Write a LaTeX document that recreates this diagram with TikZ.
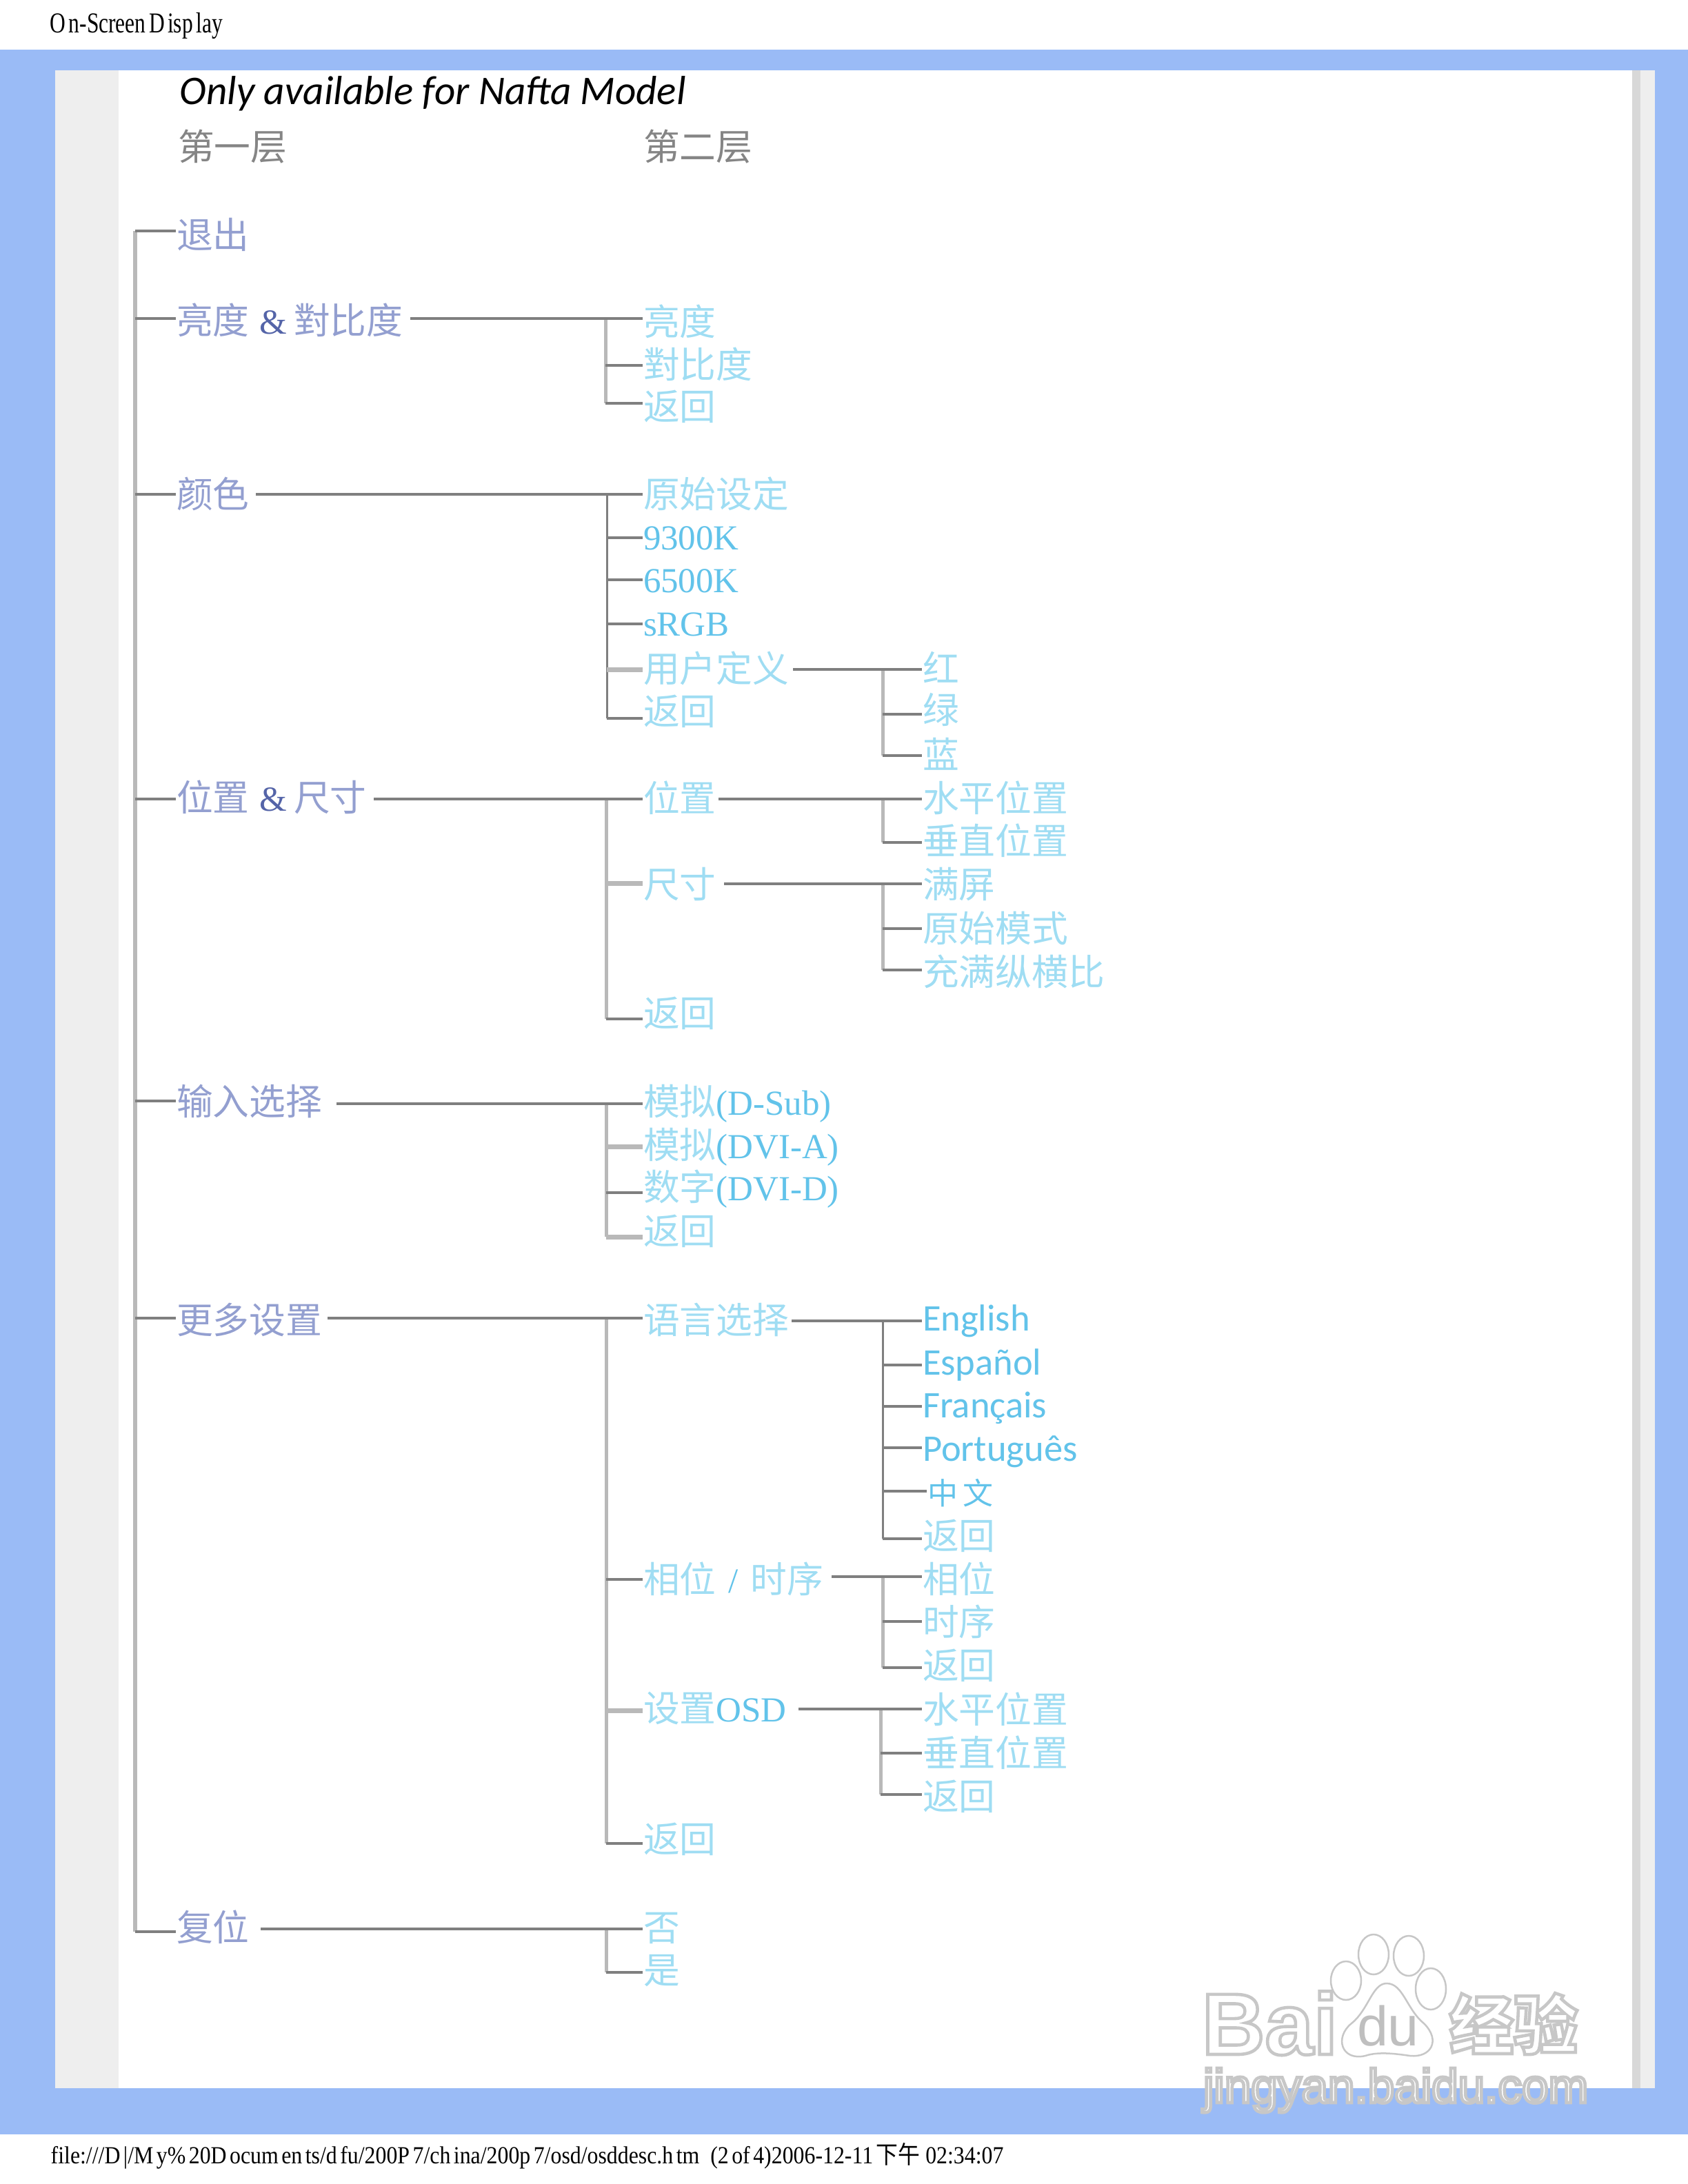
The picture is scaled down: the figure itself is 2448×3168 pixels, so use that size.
\documentclass[tikz,border=0pt]{standalone}
\usepackage{fontspec}
\usepackage{graphicx}
\setmainfont{Liberation Serif}
\newfontfamily\cjkf{Noto Sans CJK SC}
\newfontfamily\carl{Carlito}
\newfontfamily\wmf{Liberation Sans}
\definecolor{pageblue}{HTML}{9ABBF6}
\definecolor{panelgrey}{HTML}{EEEEEE}
\definecolor{edgegrey}{HTML}{D8D8D8}
\definecolor{lineDark}{HTML}{7F7F7F}
\definecolor{lineLight}{HTML}{B9B9B9}
\definecolor{firstcjk}{HTML}{939FD0}
\definecolor{firstlat}{HTML}{5464A8}
\definecolor{secondcjk}{HTML}{9FDDF3}
\definecolor{secondlat}{HTML}{62C3EA}
\definecolor{headgrey}{HTML}{858585}
\newcommand\C[1]{{\cjkf\fontsize{15}{16}\selectfont #1}}
\newcommand\gapk{\kern.14em\relax}
\newcommand\outl[1]{\special{pdf:code 2 Tr 1.3 w 0.78 G}#1\special{pdf:code 0 Tr}}
\newcommand\lab[7][]{\node[lb,#1] (#2) at (#3,#4) {#7};
  \coordinate (#2-l) at (#3-1,#5);
  \coordinate (#2-r) at (#6,#5);}
\tikzset{
  x=0.01cm,y=-0.01cm,
  lb/.style={inner sep=0pt,outer sep=0pt,anchor=west,text height=.44cm,text depth=.05cm,
    font=\fontsize{14.5}{16}\selectfont},
  one/.style={text=firstcjk},
  two/.style={text=secondcjk},
  hm/.style={draw=lineDark,line width=.04cm},
  hl/.style={draw=lineLight,line width=.07cm},
  vl/.style={draw=lineLight,line width=.05cm},
  vd/.style={draw=lineDark,line width=.03cm},
  wm/.style={inner sep=0pt,outer sep=0pt,text=white},
  toe/.style={draw=black!22,line width=.025cm,fill=white},
}
\begin{document}
\begin{tikzpicture}
\useasboundingbox (0,0) rectangle (2448,3168);
\fill[white] (0,0) rectangle (2448,3168);
\fill[pageblue] (0,72) rectangle (2448,3096);
\fill[white] (80,102) rectangle (2400,3029);
\fill[panelgrey] (80,102) rectangle (172,3029);
\fill[panelgrey] (2379,102) rectangle (2400,3029);
\fill[edgegrey] (2367,102) rectangle (2379,3029);

% header and footer
\node[inner sep=0pt,anchor=west] (hdr) at (72,37) {\resizebox{2.50cm}{0.29cm}{O\gapk n-Screen\gapk D\gapk isp\gapk lay}};
\node[inner sep=0pt,anchor=west] (ftr) at (73,3127) {\resizebox{13.81cm}{0.30cm}{file:///D\gapk|/M\gapk y\%\gapk 20D\gapk ocum\gapk en\gapk ts/d\gapk fu/200P\gapk 7/ch\gapk ina/200p\gapk 7/osd/osddesc.h\gapk tm\ \ (2\gapk of\gapk 4)2006-12-11\gapk {\cjkf 下午}\ 02:34:07}};

% headings
\node[inner sep=0pt,anchor=west,font=\carl\itshape\fontsize{16.8}{18}\selectfont] (title) at (260,136) {Only available for Nafta Model};
\lab[text=headgrey]{h1st}{258}{213}{213}{410}{\C{第一层}}
\lab[text=headgrey]{h2nd}{933}{213}{213}{1090}{\C{第二层}}

% first level
\lab[one]{a1}{256}{341}{335}{360}{\C{退出}}
\lab[one]{a2}{256}{465}{462}{595}{\C{亮度}\hspace{.15cm}\textcolor{firstlat}{\&}\hspace{.1cm}\C{對比度}}
\lab[one]{a3}{256}{717}{717}{371}{\C{颜色}}
\lab[one]{a4}{256}{1157}{1159}{542}{\C{位置}\hspace{.15cm}\textcolor{firstlat}{\&}\hspace{.1cm}\C{尺寸}}
\lab[one]{a5}{256}{1598}{1597}{488}{\C{输入选择}}
\lab[one]{a6}{256}{1915}{1912}{475}{\C{更多设置}}
\lab[one]{a7}{256}{2796}{2802}{378}{\C{复位}}

% second level
\lab[two]{b1}{933}{467}{462}{1040}{\C{亮度}}
\lab[two]{b2}{933}{529}{530}{1090}{\C{對比度}}
\lab[two]{b3}{933}{590}{585}{1040}{\C{返回}}

\lab[two]{c1}{933}{717}{717}{1145}{\C{原始设定}}
\lab[two]{c2}{933}{778}{780}{1070}{\textcolor{secondlat}{9300K}}
\lab[two]{c3}{933}{840}{841}{1070}{\textcolor{secondlat}{6500K}}
\lab[two]{c4}{933}{903}{905}{1060}{\textcolor{secondlat}{sRGB}}
\lab[two]{c5}{933}{970}{971}{1150}{\C{用户定义}}
\lab[two]{c6}{933}{1032}{1042}{1040}{\C{返回}}

\lab[two]{e1}{933}{1158}{1159}{1042}{\C{位置}}
\lab[two]{e2}{933}{1283}{1281}{1050}{\C{尺寸}}
\lab[two]{e3}{933}{1470}{1478}{1040}{\C{返回}}

\lab[two]{h1}{933}{1598}{1601}{1200}{\C{模拟}\textcolor{secondlat}{(D-Sub)}}
\lab[two]{h2}{933}{1661}{1663}{1210}{\C{模拟}\textcolor{secondlat}{(DVI-A)}}
\lab[two]{h3}{933}{1722}{1730}{1215}{\C{数字}\textcolor{secondlat}{(DVI-D)}}
\lab[two]{h4}{933}{1786}{1794}{1040}{\C{返回}}

\lab[two]{i1}{933}{1915}{1912}{1148}{\C{语言选择}}
\lab[two]{i2}{933}{2291}{2291}{1206}{\C{相位}\hspace{.18cm}\textcolor{secondlat}{/}\hspace{.18cm}\C{时序}}
\lab[two]{i3}{933}{2478}{2481}{1158}{\C{设置}\textcolor{secondlat}{OSD}}
\lab[two]{i4}{933}{2668}{2674}{1040}{\C{返回}}

\lab[two]{n1}{933}{2796}{2798}{985}{\C{否}}
\lab[two]{n2}{933}{2858}{2861}{985}{\C{是}}

% third level
\lab[two]{d1}{1338}{970}{971}{1390}{\C{红}}
\lab[two]{d2}{1338}{1030}{1036}{1390}{\C{绿}}
\lab[two]{d3}{1338}{1095}{1096}{1390}{\C{蓝}}

\lab[two]{f1}{1338}{1158}{1159}{1545}{\C{水平位置}}
\lab[two]{f2}{1338}{1220}{1222}{1545}{\C{垂直位置}}

\lab[two]{g1}{1338}{1283}{1282}{1445}{\C{满屏}}
\lab[two]{g2}{1338}{1347}{1347}{1545}{\C{原始模式}}
\lab[two]{g3}{1338}{1410}{1407}{1597}{\C{充满纵横比}}

\lab[text=secondlat,font=\carl\fontsize{15.5}{17}\selectfont]{k1}{1338}{1911}{1916}{1495}{English}
\lab[text=secondlat,font=\carl\fontsize{15.5}{17}\selectfont]{k2}{1338}{1975}{1980}{1510}{Español}
\lab[text=secondlat,font=\carl\fontsize{15.5}{17}\selectfont]{k3}{1338}{2037}{2040}{1515}{Français}
\lab[text=secondlat,font=\carl\fontsize{15.5}{17}\selectfont]{k4}{1338}{2100}{2100}{1560}{Português}
\lab[text=secondlat,font=\cjkf\fontsize{12.5}{14}\selectfont]{k5}{1345}{2163}{2163}{1437}{中\hspace{.08cm}文}
\lab[two]{k6}{1338}{2228}{2232}{1440}{\C{返回}}

\lab[two]{l1}{1338}{2291}{2287}{1440}{\C{相位}}
\lab[two]{l2}{1338}{2353}{2352}{1440}{\C{时序}}
\lab[two]{l3}{1338}{2416}{2419}{1440}{\C{返回}}

\lab[two]{m1}{1338}{2480}{2479}{1545}{\C{水平位置}}
\lab[two]{m2}{1338}{2543}{2543}{1545}{\C{垂直位置}}
\lab[two]{m3}{1338}{2606}{2603}{1440}{\C{返回}}

% spine of the first level
\coordinate (sp) at (196,0);
\draw[vl] (sp|-a1-l) -- (sp|-a7-l);
\foreach \n in {a1,a2,a3,a4,a5,a6,a7}{\draw[hm] (sp|-\n-l) -- (\n-l);}

% junctions
\coordinate (jb) at (878,0);
\coordinate (jc) at (880,0);
\coordinate (je) at (879,0);
\coordinate (jd) at (1280,0);
\coordinate (jm) at (1277,0);

% brightness
\draw[vl] (jb|-b1-l) -- (jb|-b3-l);
\draw[hm] (a2-r|-b1-l) -- (b1-l);
\foreach \n in {b2,b3}{\draw[hm] (jb|-\n-l) -- (\n-l);}

% colour
\draw[vd] (jc|-c1-l) -- (jc|-c6-l);
\draw[hm] (a3-r|-c1-l) -- (c1-l);
\foreach \n in {c2,c3,c4,c6}{\draw[hm] (jc|-\n-l) -- (\n-l);}
\draw[hl] (jc|-c5-l) -- (c5-l);
\draw[vl] (jd|-d1-l) -- (jd|-d3-l);
\draw[hm] (c5-r|-d1-l) -- (d1-l);
\foreach \n in {d2,d3}{\draw[hm] (jd|-\n-l) -- (\n-l);}

% position and size
\draw[vl] (je|-e1-l) -- (je|-e3-l);
\draw[hm] (a4-r|-e1-l) -- (e1-l);
\draw[hl] (je|-e2-l) -- (e2-l);
\draw[hm] (je|-e3-l) -- (e3-l);
\draw[vl] (jd|-f1-l) -- (jd|-f2-l);
\draw[hm] (e1-r|-f1-l) -- (f1-l);
\draw[hm] (jd|-f2-l) -- (f2-l);
\draw[vl] (jd|-g1-l) -- (jd|-g3-l);
\draw[hm] (e2-r|-g1-l) -- (g1-l);
\foreach \n in {g2,g3}{\draw[hm] (jd|-\n-l) -- (\n-l);}

% input
\draw[vl] (je|-h1-l) -- (je|-h4-l);
\draw[hm] (a5-r|-h1-l) -- (h1-l);
\draw[hl] (je|-h2-l) -- (h2-l);
\draw[hm] (je|-h3-l) -- (h3-l);
\draw[hl] (je|-h4-l) -- (h4-l);

% more settings
\draw[vl] (je|-i1-l) -- (je|-i4-l);
\draw[hm] (a6-r|-i1-l) -- (i1-l);
\draw[hm] (je|-i2-l) -- (i2-l);
\draw[hl] (je|-i3-l) -- (i3-l);
\draw[hm] (je|-i4-l) -- (i4-l);
\draw[vd] (jd|-k1-l) -- (jd|-k6-l);
\draw[hm] (i1-r|-k1-l) -- (k1-l);
\foreach \n in {k2,k3,k4,k5,k6}{\draw[hm] (jd|-\n-l) -- (\n-l);}
\draw[vl] (jd|-l1-l) -- (jd|-l3-l);
\draw[hm] (i2-r|-l1-l) -- (l1-l);
\foreach \n in {l2,l3}{\draw[hm] (jd|-\n-l) -- (\n-l);}
\draw[vl] (jm|-m1-l) -- (jm|-m3-l);
\draw[hm] (i3-r|-m1-l) -- (m1-l);
\foreach \n in {m2,m3}{\draw[hm] (jm|-\n-l) -- (\n-l);}

% reset
\draw[vl] (je|-n1-l) -- (je|-n2-l);
\draw[hm] (a7-r|-n1-l) -- (n1-l);
\draw[hm] (je|-n2-l) -- (n2-l);

% watermark
\draw[toe] (1952,2873) ellipse (22 and 28);
\draw[toe] (1992,2835) ellipse (22 and 29);
\draw[toe] (2043,2837) ellipse (22 and 29);
\draw[toe] (2075,2885) ellipse (22 and 30);
\draw[toe] (2011,2877) .. controls (2035,2877) and (2040,2915) .. (2065,2935)
  .. controls (2090,2960) and (2075,2985) .. (2045,2982)
  .. controls (2030,2980) and (2000,2975) .. (1980,2982)
  .. controls (1945,2990) and (1935,2955) .. (1960,2935)
  .. controls (1985,2915) and (1990,2877) .. (2011,2877) -- cycle;
\node[wm,anchor=base west,font=\wmf\bfseries\fontsize{36}{40}\selectfont] (wbai) at (1743,2980) {\outl{Bai}};
\node[wm,anchor=base west,text=black!25,font=\wmf\fontsize{23}{26}\selectfont] (wdu) at (1968,2967) {du};
\node[wm,anchor=base west,font=\cjkf\bfseries\fontsize{26.5}{30}\selectfont] (wjy) at (2102,2972) {\outl{经验}};
\node[wm,anchor=base west,font=\wmf\fontsize{19.7}{22}\selectfont] (wurl) at (1745,3050) {\outl{jingyan.baidu.com}};
\end{tikzpicture}
\end{document}
